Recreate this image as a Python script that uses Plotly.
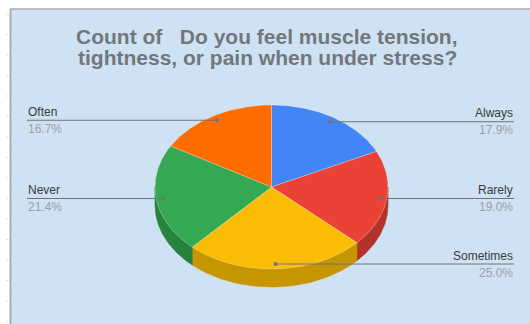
import numpy as np
import plotly.graph_objects as go

# Survey responses (counts) in clockwise order starting at 12 o'clock
categories = ["Always", "Rarely", "Sometimes", "Never", "Often"]
counts = [15, 16, 21, 18, 14]
top_colors = ["#4285F4", "#EA4335", "#FBBC04", "#34A853", "#FF6D01"]
side_colors = ["#3266c2", "#b3322a", "#c79500", "#26833e", "#c45400"]

title_lines = [
    "Count of\u00a0\u00a0\u00a0Do you feel muscle tension,",
    "tightness, or pain when under stress?",
]

# Canvas / geometry of the tilted pie (pixel-like units)
W, H = 530, 324
CX, CY = 271.5, 187.0
RX, RY = 116.5, 82.0
DEPTH = 18.0
LABEL_R = 0.94
LEFT_X, RIGHT_X = 27, 514

FONT = "Liberation Sans, Arial, sans-serif"

total = float(sum(counts))
fracs = [c / total for c in counts]
edges = np.concatenate([[0.0], np.cumsum(fracs)]) * 2 * np.pi


def ell(theta, r=1.0, dy=0.0):
    return CX + r * RX * np.sin(theta), CY - r * RY * np.cos(theta) + dy


fig = go.Figure()

# Side walls (only the front half of the rim is visible)
for i in range(len(counts)):
    a0, a1 = edges[i], edges[i + 1]
    s, e = max(a0, np.pi / 2), min(a1, 3 * np.pi / 2)
    if e <= s:
        continue
    t = np.linspace(s, e, 80)
    xt, yt = ell(t)
    xb, yb = ell(t[::-1], dy=DEPTH)
    fig.add_trace(go.Scatter(
        x=np.concatenate([xt, xb, xt[:1]]), y=np.concatenate([yt, yb, yt[:1]]),
        mode="lines", fill="toself", fillcolor=side_colors[i],
        line=dict(width=0.6, color=side_colors[i]), hoverinfo="skip", showlegend=False))

# Top faces
for i in range(len(counts)):
    t = np.linspace(edges[i], edges[i + 1], 120)
    xs, ys = ell(t)
    fig.add_trace(go.Scatter(
        x=np.concatenate([[CX], xs, [CX]]), y=np.concatenate([[CY], ys, [CY]]),
        mode="lines", fill="toself", fillcolor=top_colors[i],
        line=dict(width=0.7, color="rgba(255,255,255,0.35)"),
        hoverinfo="skip", showlegend=False))

# Leader lines with category / percentage labels
lx, ly = [], []
for i, name in enumerate(categories):
    mid = (edges[i] + edges[i + 1]) / 2
    px, py = ell(mid, r=LABEL_R)
    right = mid < np.pi
    x_end = RIGHT_X if right else LEFT_X
    fig.add_trace(go.Scatter(
        x=[px, x_end], y=[py, py], mode="lines",
        line=dict(color="#6f747a", width=1), hoverinfo="skip", showlegend=False))
    lx.append(px)
    ly.append(py)
    anchor = "right" if right else "left"
    fig.add_annotation(x=x_end, y=py - 0.5, text=name, showarrow=False,
                       xanchor=anchor, yanchor="bottom", align=anchor,
                       font=dict(family=FONT, size=12, color="#383c40"), borderpad=0)
    fig.add_annotation(x=x_end, y=py + 0.5, text=f"{100 * fracs[i]:.1f}%", showarrow=False,
                       xanchor=anchor, yanchor="top", align=anchor,
                       font=dict(family=FONT, size=12, color="#9aa0a6"), borderpad=0)

fig.add_trace(go.Scatter(x=lx, y=ly, mode="markers",
                         marker=dict(size=4, color="#6f747a"),
                         hoverinfo="skip", showlegend=False))

# Two-line title
for k, line in enumerate(title_lines):
    fig.add_annotation(x=267, y=36 + 21 * k, text=f"<b>{line}</b>", showarrow=False,
                       xanchor="center", yanchor="middle",
                       font=dict(family=FONT, size=21, color="#72777c"), borderpad=0)

# Chart panel and its border
shapes = [
    dict(type="rect", x0=10, y0=9, x1=W, y1=H, fillcolor="#cfe2f3",
         line=dict(width=0), layer="below"),
    dict(type="line", x0=10, y0=9, x1=W, y1=9, line=dict(color="#a9adb1", width=1.5),
         layer="below"),
    dict(type="line", x0=10.5, y0=9, x1=10.5, y1=H, line=dict(color="#a9adb1", width=2),
         layer="below"),
]
for yy in np.arange(14, H, 20.5):
    shapes.append(dict(type="line", x0=6, y0=yy, x1=9, y1=yy,
                       line=dict(color="#e2e2e2", width=1), layer="below"))

fig.update_layout(
    width=W, height=H, margin=dict(l=0, r=0, t=0, b=0),
    paper_bgcolor="white", plot_bgcolor="rgba(0,0,0,0)",
    xaxis=dict(range=[0, W], visible=False, fixedrange=True),
    yaxis=dict(range=[H, 0], visible=False, fixedrange=True),
    shapes=shapes, showlegend=False,
)

fig.write_html("out.html", config={"displayModeBar": False})
